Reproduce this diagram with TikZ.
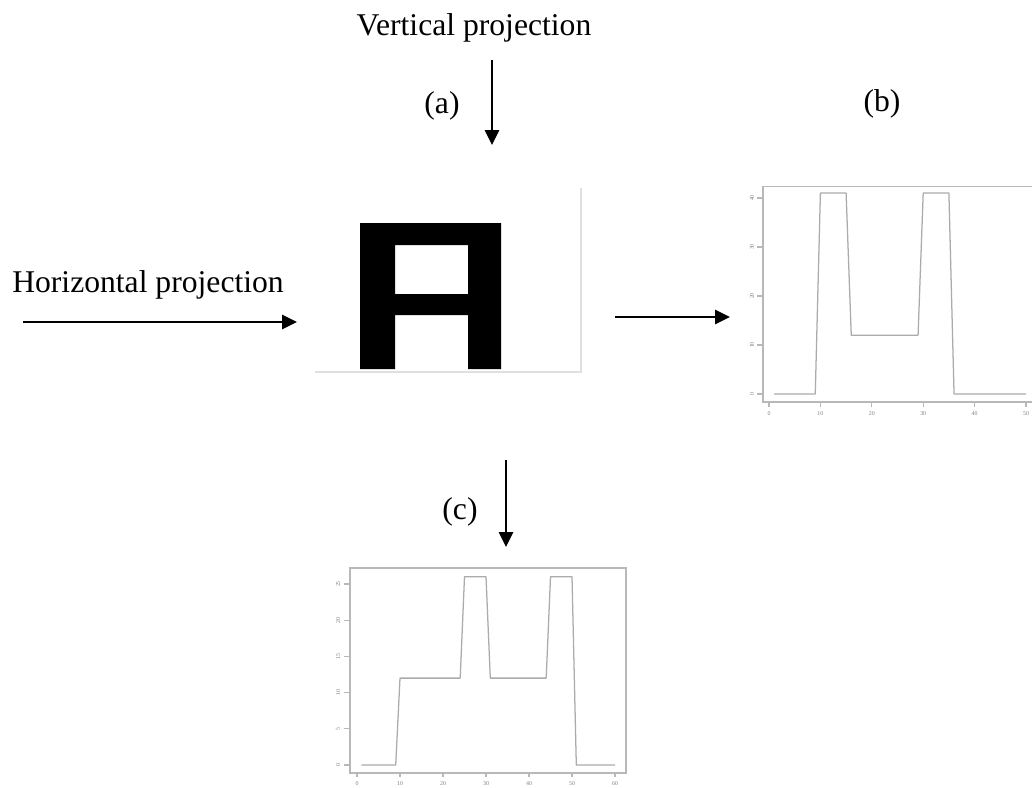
\documentclass[tikz,border=0pt]{standalone}
\usepackage{fontspec}
\setmainfont{Liberation Serif}
\usepackage{tikz}
\usetikzlibrary{arrows.meta}

\tikzset{
  caption/.style={font=\fontsize{22.5}{27}\selectfont, inner sep=0pt, anchor=base},
  projarrow/.style={-{Triangle[length=10.5pt,width=10pt]}, line width=1.3pt},
  plotline/.style={black!33, line width=0.9pt, line join=round},
  plotframe/.style={black!28, line width=0.9pt},
  ticklabel/.style={font=\fontsize{4.2}{4.2}\selectfont, text=black!50, inner sep=0pt},
}

\begin{document}
\begin{tikzpicture}[x=0.025cm,y=-0.025cm]
  \useasboundingbox (0,0) rectangle (1032,788);

  \node[caption] (vproj) at (474,36) {Vertical projection};
  \node[caption] (hproj) at (148,292) {Horizontal projection};
  \node[caption] (lbla) at (442,114) {(a)};
  \node[caption] (lblb) at (882,112) {(b)};
  \node[caption] (lblc) at (460,519) {(c)};

  \coordinate (vtop) at (492,60);   \coordinate (vtip) at (492,145);
  \coordinate (hleft) at (23,322);  \coordinate (htip) at (297,322);
  \coordinate (btail) at (615,317); \coordinate (btip) at (730,317);
  \coordinate (ctail) at (506,460); \coordinate (ctip) at (506,547);
  \draw[projarrow] (vtop) -- (vtip);
  \draw[projarrow] (hleft) -- (htip);
  \draw[projarrow] (btail) -- (btip);
  \draw[projarrow] (ctail) -- (ctip);

  % the letter image
  \draw[black!12, line width=1.3pt] (315,372) -- (581,372) -- (581,188);
  \fill[even odd rule] (360,223) -- (501,223) -- (501,369) -- (468,369) -- (468,315)
      -- (395,315) -- (395,369) -- (360,369) -- cycle
      (395,245) rectangle (468,294);

  % profile (b)
  \begin{scope}[shift={(769,394)}, xscale=5.14, yscale=-4.9]
    \draw[plotframe] (51.3,42.4) -- (-1.17,42.4) -- (-1.17,-1.63) -- (51.3,-1.63);
    \foreach \v in {0,10,...,40} {
      \draw[plotframe] (-1.17,\v) -- ++(-1.2,0);
      \node[ticklabel, rotate=90] at (-3.3,\v) {\v};
    }
    \foreach \u in {0,10,...,50} {
      \draw[plotframe] (\u,-1.63) -- ++(0,-1.0);
      \node[ticklabel] at (\u,-3.9) {\u};
    }
    \draw[plotline] plot coordinates {(1,0) (9,0) (10,41) (15,41) (16,12) (29,12)
      (30,41) (35,41) (36,0) (50,0)};
  \end{scope}

  % profile (c)
  \begin{scope}[shift={(357,765)}, xscale=4.3, yscale=-7.24]
    \draw[plotframe] (-1.63,-1.1) rectangle (62.56,27.2);
    \foreach \v in {0,5,...,25} {
      \draw[plotframe] (-1.63,\v) -- ++(-1.4,0);
      \node[ticklabel, rotate=90] at (-4.4,\v) {\v};
    }
    \foreach \u in {0,10,...,60} {
      \draw[plotframe] (\u,-1.1) -- ++(0,-0.55);
      \node[ticklabel] at (\u,-2.5) {\u};
    }
    \draw[plotline] plot coordinates {(1,0) (9,0) (10,12) (24,12) (25,26) (30,26)
      (31,12) (44,12) (45,26) (50,26) (51,0) (60,0)};
  \end{scope}
\end{tikzpicture}
\end{document}
